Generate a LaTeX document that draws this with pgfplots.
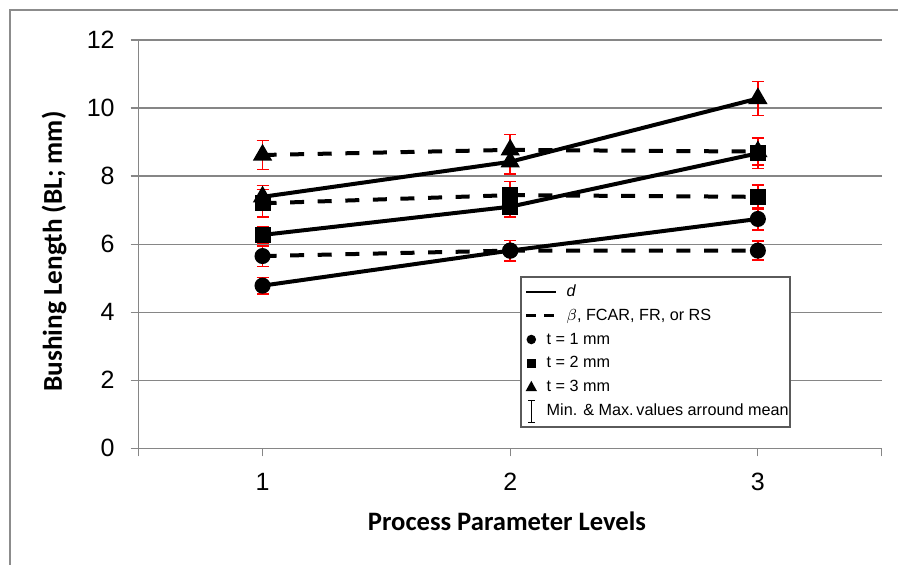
\documentclass[border=0pt]{standalone}
\usepackage{pgfplots}
\pgfplotsset{compat=1.18}
\usepackage{fontspec}
\setmainfont{Liberation Sans}
\newfontfamily\calibri{Carlito}
\definecolor{gridgray}{RGB}{134,134,134}
\definecolor{framegray}{RGB}{140,140,140}
\definecolor{legframe}{RGB}{90,90,90}
\definecolor{errred}{RGB}{255,0,0}
\begin{document}
\begin{tikzpicture}
\useasboundingbox (0,0) rectangle (449pt,282.5pt);
\draw[framegray, line width=1pt] (4.75pt,0) -- (4.75pt,277.5pt) -- (449pt,277.5pt);
\begin{axis}[
  at={(69.35pt,58.35pt)}, anchor=south west,
  scale only axis, width=371.5pt, height=204.15pt,
  xmin=0.5, xmax=3.5, ymin=0, ymax=12,
  ytick={0,2,4,6,8,10,12},
  xtick={0.5,1,2,3,3.5}, xticklabels={,1,2,3,},
  axis lines=left, axis line style={-, gridgray, line width=0.6pt},
  ymajorgrids, grid style={gridgray, line width=0.6pt},
  tick align=outside, major tick length=4pt,
  tick style={gridgray, line width=0.6pt},
  /pgf/number format/assume math mode=true,
  tick label style={font=\fontsize{12.5}{14}\selectfont},
  yticklabel style={xshift=-4.5pt},
  xticklabel style={yshift=-5pt},
  xlabel={\calibri\bfseries Process Parameter Levels},
  ylabel={\calibri\bfseries Bushing Length (BL; mm)},
  xlabel style={at={(axis description cs:0.4957,-0.178)}, anchor=center, font=\fontsize{13.3}{15}\selectfont},
  ylabel style={at={(axis description cs:-0.114,0.482)}, anchor=center, rotate=0, font=\fontsize{13.6}{15}\selectfont},
  legend style={at={(axis description cs:0.5132,0.4227)}, anchor=north west,
    draw=legframe, line width=0.9pt, fill=white,
    font=\fontsize{8.1}{10}\selectfont, inner sep=2pt,
    row sep=0.6pt,
    nodes={inner ysep=1.5pt, inner xsep=1.5pt, text height=6.4pt, text depth=1.9pt}},
  legend cell align=left,
  error bars/y dir=both, error bars/y explicit,
  error bars/error bar style={errred, line width=0.75pt, solid},
  error bars/error mark options={errred, line width=0.75pt, mark size=3pt, solid, rotate=90},
]
% legend entries
\addlegendimage{legend image code/.code={\draw[black, line width=1.4pt] (0pt,0pt) -- (15pt,0pt);}}
\addlegendentry{\hspace*{3pt}\itshape d}
\addlegendimage{legend image code/.code={\draw[black, line width=1.4pt, dash pattern=on 5pt off 4pt] (0pt,0pt) -- (15pt,0pt);}}
\addlegendentry{\hspace*{3pt}$\beta$, FCAR, FR, or RS}
\addlegendimage{legend image code/.code={\fill[black] (2.5pt,0pt) circle (1.9pt);}}
\addlegendentry{\hspace*{-7pt}t = 1 mm}
\addlegendimage{legend image code/.code={\fill[black] (0.7pt,-1.8pt) rectangle (4.3pt,1.8pt);}}
\addlegendentry{\hspace*{-7pt}t = 2 mm}
\addlegendimage{legend image code/.code={\fill[black] (0.4pt,-1.6pt) -- (4.6pt,-1.6pt) -- (2.5pt,2.2pt) -- cycle;}}
\addlegendentry{\hspace*{-7pt}t = 3 mm}
\addlegendimage{legend image code/.code={\draw[black, line width=0.6pt] (2.5pt,-5.5pt) -- (2.5pt,5.5pt) (0.8pt,-5.5pt) -- (4.2pt,-5.5pt) (0.8pt,5.5pt) -- (4.2pt,5.5pt);}}
\addlegendentry{\hspace*{-7pt}Min. \& Max.\,values arround mean\hspace*{-3pt}}
% dashed series (beta, FCAR, FR, RS)
\addplot[forget plot, black, line width=2pt, dash pattern=on 7pt off 6.8pt, mark=*, mark size=3pt, mark options={solid}]
 coordinates {(1,5.65) +- (0,0.30) (2,5.81) +- (0,0.30) (3,5.81) +- (0,0.28)};
\addplot[forget plot, black, line width=2pt, dash pattern=on 7pt off 6.8pt, mark=square*, mark size=3pt, mark options={solid}]
 coordinates {(1,7.20) +- (0,0.40) (2,7.44) +- (0,0.40) (3,7.39) +- (0,0.35)};
\addplot[forget plot, black, line width=2pt, dash pattern=on 7pt off 6.8pt, mark=triangle*, mark size=3.6pt, mark options={solid}]
 coordinates {(1,8.62) +- (0,0.43) (2,8.77) +- (0,0.45) (3,8.72) +- (0,0.40)};
% solid series (d)
\addplot[forget plot, black, line width=2pt, mark=*, mark size=3pt]
 coordinates {(1,4.78) +- (0,0.24) (2,5.81) +- (0,0.30) (3,6.74) +- (0,0.32)};
\addplot[forget plot, black, line width=2pt, mark=square*, mark size=3pt]
 coordinates {(1,6.27) +- (0,0.25) (2,7.10) +- (0,0.30) (3,8.67) +- (0,0.45)};
\addplot[forget plot, black, line width=2pt, mark=triangle*, mark size=3.6pt]
 coordinates {(1,7.39) +- (0,0.33) (2,8.42) +- (0,0.36) (3,10.28) +- (0,0.50)};
\end{axis}
\end{tikzpicture}
\end{document}
